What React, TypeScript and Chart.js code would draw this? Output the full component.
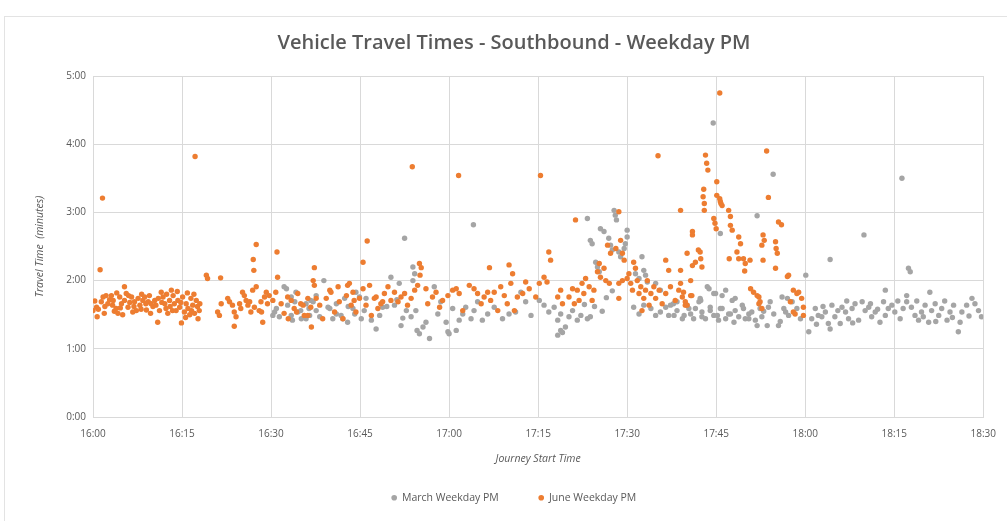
import React, { useEffect, useRef } from "react";
import { Chart, registerables } from "chart.js";

Chart.register(...registerables);

const TITLE = "Vehicle Travel Times - Southbound - Weekday PM";
const X_TITLE = "Journey Start Time";
const Y_TITLE = "Travel Time  (minutes)";
const SERIES_NAMES = ["March Weekday PM", "June Weekday PM"];

// x: minutes after 16:00, every 15 minutes
const xTickLabels = ["16:00", "16:15", "16:30", "16:45", "17:00", "17:15", "17:30", "17:45", "18:00", "18:15", "18:30"];
const yTickLabels = ["0:00", "1:00", "2:00", "3:00", "4:00", "5:00"];

// [journey start (minutes after 16:00), travel time (minutes)]
const juneWeekdayPM: [number, number][] = [
  [0, 1.56], [0.3, 1.7], [0.6, 1.61], [0.7, 1.47], [0.9, 1.58], [1.2, 2.16], [1.4, 1.69], [1.6, 3.21], [1.7, 1.76], [1.9, 1.52],
  [2.0, 1.62], [2.2, 1.78], [2.5, 1.66], [2.8, 1.72], [3.1, 1.78], [3.3, 1.64], [3.4, 1.71], [3.6, 1.55], [3.9, 1.59], [4.0, 1.82],
  [4.2, 1.52], [4.5, 1.76], [4.6, 1.6], [4.8, 1.66], [5.0, 1.5], [5.3, 1.91], [5.3, 1.71], [5.6, 1.81], [5.9, 1.61], [6.0, 1.78],
  [6.2, 1.68], [6.5, 1.76], [6.7, 1.54], [6.9, 1.62], [7.0, 1.69], [7.3, 1.56], [7.6, 1.74], [7.9, 1.64], [8.1, 1.58], [8.2, 1.8],
  [8.4, 1.71], [8.7, 1.76], [8.9, 1.66], [9.0, 1.57], [9.3, 1.69], [9.5, 1.78], [9.7, 1.52], [9.8, 1.66], [10.1, 1.62], [10.4, 1.71],
  [10.6, 1.64], [10.9, 1.39], [11.0, 1.74], [11.2, 1.56], [11.5, 1.83], [11.6, 1.68], [11.8, 1.76], [12.1, 1.66], [12.3, 1.59], [12.4, 1.8],
  [12.6, 1.52], [12.9, 1.71], [13.0, 1.62], [13.2, 1.86], [13.4, 1.56], [13.5, 1.78], [13.7, 1.66], [14.0, 1.56], [14.2, 1.84], [14.3, 1.71],
  [14.6, 1.61], [14.8, 1.68], [14.9, 1.38], [15.1, 1.76], [15.4, 1.54], [15.6, 1.46], [15.7, 1.66], [15.9, 1.82], [16.0, 1.59], [16.3, 1.5],
  [16.5, 1.74], [16.6, 1.56], [16.8, 1.64], [17.0, 1.8], [17.1, 1.52], [17.2, 3.82], [17.4, 1.71], [17.6, 1.62], [17.7, 1.44], [17.9, 1.56],
  [18.0, 1.66], [19.1, 2.08], [19.3, 2.03], [21.5, 2.04],
  [21.0, 1.54], [21.3, 1.49], [21.6, 1.66], [22.7, 1.74], [23.0, 1.69], [23.5, 1.64], [23.8, 1.54], [23.8, 1.33], [24.1, 1.47], [24.7, 1.66],
  [24.9, 1.59], [25.2, 1.83], [25.5, 1.78], [25.8, 1.71], [26.1, 1.64], [26.4, 1.69], [26.6, 1.54], [26.9, 1.86], [27.0, 2.31], [27.1, 2.15],
  [27.5, 2.53], [27.2, 1.61], [27.5, 1.91], [28.0, 1.56], [28.3, 1.69], [28.4, 1.54], [28.6, 1.39], [28.9, 1.76], [29.2, 1.83], [29.4, 1.66],
  [29.7, 1.78], [30.3, 1.71], [30.8, 1.83], [31.0, 2.42], [31.1, 2.05], [31.7, 1.66], [32.2, 1.52], [32.8, 1.76], [32.9, 1.44], [33.4, 1.71],
  [33.9, 1.59], [34.3, 1.54], [34.5, 1.81], [35.0, 1.66], [35.4, 1.64], [35.6, 1.49], [36.2, 1.74], [36.2, 1.49], [36.7, 1.61],
  [36.8, 1.32], [37.1, 2.0], [37.3, 2.19], [37.3, 1.93], [37.6, 1.74], [38.2, 1.64], [38.7, 1.44], [39.3, 1.74], [39.9, 1.86], [40.1, 1.83],
  [40.7, 1.54], [41.3, 1.91], [41.5, 1.69], [42.1, 1.44], [42.7, 1.78], [42.9, 1.93], [43.2, 1.96], [43.5, 1.64], [43.8, 1.83], [44.0, 1.71],
  [44.3, 1.54], [44.9, 1.74], [45.5, 1.88], [45.5, 2.27], [46.0, 1.64], [46.2, 2.58], [46.6, 1.93], [46.9, 1.49], [47.4, 1.74], [47.7, 1.76],
  [48.0, 1.59], [48.5, 1.66], [48.8, 1.69],
  [49.1, 1.81], [49.7, 1.91], [50.2, 1.71], [50.8, 1.83], [51.4, 1.69], [51.9, 1.76], [52.5, 1.81], [53.0, 1.64], [53.6, 1.74], [53.8, 3.67],
  [54.2, 1.86], [54.7, 1.93], [55.0, 2.25], [55.1, 2.08], [55.3, 2.19], [56.1, 1.88], [56.4, 1.66], [57.2, 1.76], [57.8, 1.83], [58.4, 1.61],
  [58.9, 1.71], [59.8, 1.78], [60.6, 1.86], [61.2, 1.88], [61.6, 3.54], [61.7, 1.81], [62.3, 1.56], [63.4, 1.93], [64.2, 1.88], [64.8, 1.81],
  [65.4, 1.66], [65.9, 1.76], [66.5, 1.83], [66.8, 2.19], [67.0, 1.71], [67.6, 1.83], [68.2, 1.56], [68.7, 1.91], [69.3, 1.78], [69.8, 1.66],
  [70.1, 2.23], [70.4, 1.96], [70.7, 2.1], [71.0, 1.56], [71.5, 1.76], [72.4, 1.81], [72.9, 1.98], [73.5, 1.88],
  [74.6, 1.76], [75.2, 1.96], [75.4, 3.54], [76.0, 2.05], [76.5, 1.98], [76.8, 2.42], [77.1, 2.3], [78.3, 1.76], [78.8, 1.86], [79.1, 1.66],
  [80.2, 1.76], [80.8, 1.88], [81.1, 1.66], [81.3, 2.89], [81.6, 1.86], [81.9, 1.71], [82.4, 1.96], [82.7, 1.81], [83.0, 2.03], [83.6, 1.91],
  [84.1, 1.71], [84.4, 1.86], [85.0, 2.13], [85.3, 2.25], [85.5, 2.05], [86.1, 2.18], [86.4, 2.0], [86.7, 2.52], [87.0, 1.96], [87.2, 2.4],
  [88.1, 2.47], [88.6, 3.01], [88.6, 1.96], [88.6, 1.74], [88.9, 2.59], [89.2, 2.4], [89.2, 2.0], [89.5, 2.3], [90.0, 2.03], [90.3, 2.1],
  [90.6, 1.96], [90.9, 1.86], [91.1, 2.27], [91.4, 2.18], [91.7, 2.0], [92.0, 1.81], [92.3, 1.91], [92.5, 1.56], [92.8, 1.74], [93.1, 1.86],
  [93.4, 2.0], [93.7, 1.64], [94.0, 1.81], [94.5, 1.91], [94.8, 1.74], [95.2, 3.83], [95.4, 1.86], [95.9, 1.66], [96.5, 1.81], [96.5, 2.3],
  [97.0, 2.15], [97.3, 1.91], [98.1, 1.71], [98.7, 1.86], [99.0, 3.03], [99.0, 2.15], [99.0, 1.96], [99.3, 1.76], [99.5, 1.83], [99.8, 1.64],
  [99.8, 1.69], [100.1, 2.4], [100.1, 1.64], [100.7, 2.0], [100.7, 1.78], [100.9, 1.78], [101.0, 2.72], [101.0, 2.67], [101.0, 2.22], [101.5, 2.27],
  [102.0, 2.45], [102.3, 2.42], [102.4, 2.32], [102.6, 2.2], [102.8, 3.23], [103.0, 3.13], [103.0, 3.03], [102.9, 3.34], [103.2, 3.84], [103.4, 3.72],
  [103.6, 3.62], [104.6, 2.91], [104.8, 2.84], [105.0, 2.76], [105.1, 3.45], [105.1, 3.25], [105.6, 4.75], [105.6, 3.2], [105.7, 3.16], [105.8, 3.13],
  [106.0, 3.1], [107.1, 3.03], [107.4, 2.94], [107.4, 2.81], [107.7, 2.74], [107.2, 2.32], [108.8, 2.64], [109.1, 2.54], [108.5, 2.42], [108.8, 2.32],
  [109.6, 2.32], [109.9, 2.25], [109.8, 2.14], [110.7, 2.3], [110.8, 1.88], [111.3, 1.83], [111.9, 1.78], [112.2, 1.76], [112.2, 1.66], [112.4, 1.69],
  [112.7, 1.59], [112.7, 2.52], [112.9, 2.67], [113.1, 2.59], [112.9, 2.3], [113.5, 3.9], [113.8, 3.22], [115.0, 2.57], [115.1, 2.47], [115.3, 2.4],
  [115.0, 2.18], [115.5, 2.86], [116.0, 2.82], [117.0, 2.06], [117.2, 2.08], [117.5, 1.69], [118.0, 1.86], [118.0, 1.54], [118.3, 1.51], [118.6, 1.81],
  [118.9, 1.83], [119.4, 1.74], [119.7, 1.61], [119.7, 1.49],
];

const marchWeekdayPM: [number, number][] = [
  [30.3, 1.49], [30.6, 1.54], [30.9, 1.59], [31.4, 1.47], [32.2, 1.91], [32.6, 1.88], [32.8, 1.64], [33.4, 1.76], [33.4, 1.49], [33.6, 1.42],
  [34.0, 1.69], [34.2, 1.83], [34.5, 1.54], [35.0, 1.56], [35.1, 1.44], [35.9, 1.66], [35.9, 1.44], [36.4, 1.59], [36.5, 1.49], [36.7, 1.71],
  [37.1, 1.69], [37.6, 1.78], [37.6, 1.56], [38.2, 1.47], [38.9, 2.0], [39.6, 1.61], [39.9, 1.59], [40.4, 1.44], [41.0, 1.66], [41.0, 1.51],
  [41.8, 1.49], [42.1, 1.44], [42.4, 1.74], [42.9, 1.39], [43.0, 1.62], [43.8, 1.59], [44.1, 1.51], [44.3, 1.83], [44.9, 1.76], [45.2, 1.44],
  [45.7, 1.56], [46.0, 1.74], [46.9, 1.42], [47.7, 1.29], [48.3, 1.49], [48.8, 1.61],
  [49.5, 1.62], [50.2, 2.05], [50.8, 1.64], [51.2, 1.72], [51.6, 1.96], [51.9, 1.34], [52.2, 1.45], [52.5, 2.62], [52.8, 1.56], [53.6, 1.47],
  [53.9, 2.0], [53.9, 2.2], [54.2, 2.1], [54.4, 1.56], [54.6, 1.27], [55.0, 1.22], [55.6, 1.32], [56.1, 1.39], [56.7, 1.15], [57.5, 1.91],
  [58.1, 1.51], [58.6, 1.69], [59.5, 1.39], [59.8, 1.25], [60.0, 1.22], [60.6, 1.59], [61.2, 1.27], [61.7, 1.42], [62.3, 1.51], [62.8, 1.61],
  [63.7, 1.44], [64.1, 2.82], [64.2, 1.56], [64.8, 1.69], [65.6, 1.42], [66.5, 1.51], [67.6, 1.61], [69.0, 1.44], [70.1, 1.51], [71.2, 1.54],
  [72.1, 1.83], [72.9, 1.69], [73.8, 1.49],
  [75.2, 1.71], [76.0, 1.64], [76.8, 1.54], [77.7, 1.61], [78.3, 1.42], [78.3, 1.2], [78.8, 1.51], [78.8, 1.27], [79.1, 1.24], [79.6, 1.32],
  [80.2, 1.47], [80.8, 1.56], [81.6, 1.42], [82.2, 1.49], [82.8, 1.65], [83.3, 1.44], [83.3, 2.91], [83.8, 1.47], [83.8, 2.59], [84.1, 2.54],
  [84.5, 1.62], [84.7, 2.27], [85.0, 2.2], [85.3, 2.13], [85.5, 2.76], [85.8, 1.55], [86.1, 2.72], [86.5, 1.75], [86.9, 2.62], [87.2, 2.52],
  [87.5, 2.45], [87.5, 1.85], [87.8, 3.03], [88.0, 2.96], [88.2, 2.89], [88.6, 2.42], [88.9, 2.35], [89.5, 2.47], [89.7, 2.54], [90.0, 2.74],
  [90.0, 2.64], [91.1, 1.61], [91.4, 2.1], [92.0, 2.03], [92.0, 1.51], [92.5, 2.35], [92.8, 2.15], [92.8, 1.64], [93.1, 2.08], [93.4, 1.98],
  [94.0, 1.59], [94.8, 1.96], [94.8, 1.49], [95.6, 1.86], [95.6, 1.54], [96.5, 1.61], [97.0, 1.49], [97.3, 1.64], [97.8, 1.66], [97.9, 1.49],
  [98.4, 1.56], [98.4, 1.69], [99.3, 1.44], [99.6, 1.49], [100.1, 1.64], [100.4, 1.59], [100.7, 1.51], [101.2, 1.44], [101.5, 1.59], [102.1, 1.69],
  [102.3, 1.74], [102.4, 1.71], [102.6, 1.47], [102.6, 1.54], [103.2, 1.44], [103.5, 1.91], [103.8, 1.88], [104.0, 1.56], [104.0, 1.61], [104.5, 4.31],
  [104.6, 1.81], [104.6, 1.49], [104.9, 1.81], [105.2, 1.49], [105.4, 1.42], [105.7, 1.59], [105.7, 2.69], [106.0, 1.59], [106.0, 1.78], [106.6, 1.86],
  [106.6, 1.44], [107.1, 1.51], [107.4, 1.51], [107.7, 1.71], [108.0, 1.39], [108.2, 1.56], [108.2, 1.74], [108.8, 1.47], [109.4, 1.64], [109.6, 1.59],
  [109.9, 1.44], [110.5, 1.51], [110.5, 1.44], [111.0, 1.54], [111.6, 1.42], [111.9, 1.34], [111.9, 2.95], [112.4, 1.59], [112.7, 1.47], [113.0, 1.55],
  [113.6, 1.34], [113.8, 1.61], [114.1, 1.69], [114.6, 3.56], [114.7, 1.51], [115.5, 1.34], [115.8, 1.4], [116.1, 1.76], [116.4, 1.59], [116.7, 1.54],
  [117.0, 1.74], [117.2, 1.49], [117.8, 1.69], [118.6, 1.59], [119.2, 1.44], [120.1, 2.08], [120.6, 1.25], [121.1, 1.44], [121.7, 1.59], [121.9, 1.36],
  [122.2, 1.49], [122.8, 1.47], [123.0, 1.62], [123.4, 1.54], [123.9, 1.37], [124.2, 1.29], [124.2, 2.31], [124.5, 1.64], [125.0, 1.47], [125.5, 1.56],
  [125.9, 1.37], [126.2, 1.61], [126.8, 1.54], [127.0, 1.7], [127.3, 1.44], [127.9, 1.59], [128.0, 1.38], [128.4, 1.66], [129.0, 1.42], [129.6, 1.69],
  [129.9, 2.67], [130.1, 1.56], [130.7, 1.61], [131.0, 1.66], [131.2, 1.47], [131.8, 1.54], [132.2, 1.58], [132.6, 1.39], [133.2, 1.69], [133.5, 1.86],
  [133.5, 1.49], [134.0, 1.59], [134.6, 1.64], [135.1, 1.54], [135.6, 1.7], [136.0, 1.44], [136.3, 3.5], [136.5, 1.59], [137.1, 1.78], [137.1, 1.69],
  [137.4, 2.18], [137.7, 2.13], [137.9, 1.61], [138.5, 1.49], [138.8, 1.7], [139.1, 1.42], [139.6, 1.54], [139.9, 1.47], [140.2, 1.64], [140.8, 1.39],
  [141.0, 1.83], [141.3, 1.56], [141.9, 1.66], [142.0, 1.4], [142.5, 1.49], [143.0, 1.59], [143.5, 1.7], [143.9, 1.42], [144.4, 1.54], [144.8, 1.46],
  [145.0, 1.64], [145.8, 1.25], [146.1, 1.39], [146.4, 1.54], [147.2, 1.64], [147.6, 1.48], [148.1, 1.74], [148.6, 1.66], [149.2, 1.56], [149.7, 1.47],
];

const MARCH_COLOR = "#A5A5A5";
const JUNE_COLOR = "#ED7D31";
const TEXT_COLOR = "#595959";
const GRID_COLOR = "#D9D9D9";
const FONT = "'Open Sans', 'Liberation Sans', sans-serif";

export default function App() {
  const canvasRef = useRef<HTMLCanvasElement | null>(null);

  useEffect(() => {
    const canvas = canvasRef.current;
    if (!canvas) return;
    const toPoints = (arr: [number, number][]) => arr.map(([x, y]) => ({ x, y }));
    const chart = new Chart(canvas, {
      type: "scatter",
      data: {
        datasets: [
          {
            label: SERIES_NAMES[0],
            data: toPoints(marchWeekdayPM),
            backgroundColor: MARCH_COLOR,
            borderColor: MARCH_COLOR,
            borderWidth: 0,
            pointRadius: 2.7,
            order: 2,
          },
          {
            label: SERIES_NAMES[1],
            data: toPoints(juneWeekdayPM),
            backgroundColor: JUNE_COLOR,
            borderColor: JUNE_COLOR,
            borderWidth: 0,
            pointRadius: 2.7,
            order: 1,
          },
        ],
      },
      options: {
        responsive: false,
        maintainAspectRatio: false,
        animation: false,
        devicePixelRatio: 1,
        layout: { padding: { left: 43, right: 22, top: 25, bottom: 8 } },
        plugins: {
          title: {
            display: true,
            text: TITLE,
            color: TEXT_COLOR,
            font: { family: FONT, size: 20, weight: "600" as any },
            padding: { top: 6, bottom: 21 },
          },
          legend: {
            position: "bottom",
            labels: {
              usePointStyle: true,
              pointStyle: "circle",
              boxWidth: 5,
              boxHeight: 4,
              color: TEXT_COLOR,
              font: { family: FONT, size: 10.5 },
              padding: 40,
              sort: (a: any, b: any) => a.datasetIndex - b.datasetIndex,
            },
          },
          tooltip: { enabled: false },
        },
        scales: {
          x: {
            type: "linear",
            min: 0,
            max: 150,
            afterFit: (scale: any) => {
              scale.height = 35.5;
            },
            ticks: {
              stepSize: 15,
              maxRotation: 0,
              autoSkip: false,
              padding: 11,
              color: TEXT_COLOR,
              font: { family: FONT, size: 10 },
              callback: (v: any) => xTickLabels[Math.round(Number(v) / 15)] ?? "",
            },
            grid: { color: GRID_COLOR, drawTicks: false, lineWidth: 1 },
            border: { color: GRID_COLOR },
            title: {
              display: true,
              text: X_TITLE,
              color: TEXT_COLOR,
              font: { family: FONT, size: 10.5, style: "italic" },
              padding: { top: 0, bottom: -13 },
            },
          },
          y: {
            type: "linear",
            min: 0,
            max: 5,
            afterFit: (scale: any) => {
              scale.width = 50;
            },
            ticks: {
              stepSize: 1,
              padding: 7,
              color: TEXT_COLOR,
              font: { family: FONT, size: 10 },
              callback: (v: any) => yTickLabels[Math.round(Number(v))] ?? "",
            },
            grid: { color: GRID_COLOR, drawTicks: false, lineWidth: 1 },
            border: { color: GRID_COLOR },
            title: {
              display: true,
              text: Y_TITLE,
              color: TEXT_COLOR,
              font: { family: FONT, size: 10.5, style: "italic" },
              padding: { top: -9.5, bottom: 0 },
            },
          },
        },
      },
    } as any);
    return () => chart.destroy();
  }, []);

  return (
    <div style={{ position: "absolute", left: 0, top: 0, width: 1007, height: 521, background: "#ffffff", overflow: "hidden" }}>
      <div
        style={{
          position: "absolute",
          left: 4,
          top: 16,
          width: 1020,
          height: 520,
          borderTop: "1px solid #E3E3E3",
          borderLeft: "1px solid #E3E3E3",
        }}
      />
      <canvas ref={canvasRef} width={1007} height={521} style={{ position: "absolute", left: 0, top: 0, width: 1007, height: 521 }} />
    </div>
  );
}
